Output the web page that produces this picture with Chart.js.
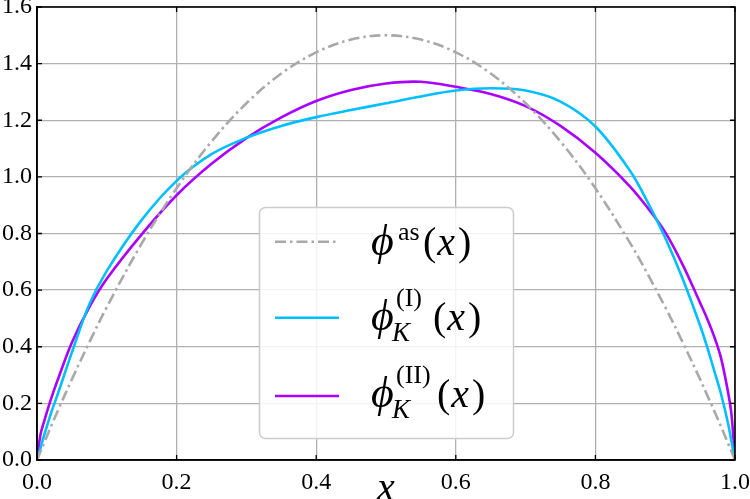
<!DOCTYPE html>
<html>
<head>
<meta charset="utf-8">
<script src="https://cdn.jsdelivr.net/npm/chart.js@4.4.1/dist/chart.umd.min.js"></script>
<style>
  html, body { margin: 0; padding: 0; background: #fff; }
  #wrap { width: 750px; height: 499px; }
</style>
</head>
<body>
<div id="wrap"><canvas id="chart" width="750" height="499"></canvas></div>
<script>
const xs = [0, 0.005, 0.01, 0.02, 0.03, 0.05, 0.075, 0.1, 0.15, 0.2, 0.25, 0.3, 0.35, 0.4, 0.45, 0.5,
  0.55, 0.6, 0.65, 0.7, 0.75, 0.8, 0.85, 0.875, 0.9, 0.925, 0.95, 0.96, 0.97, 0.98, 0.99, 0.995, 1];

// phi^as(x)
const phiAs = [0, 0.030, 0.059, 0.118, 0.175, 0.285, 0.416, 0.54, 0.765, 0.96, 1.125, 1.26, 1.365, 1.44, 1.485, 1.5,
  1.485, 1.44, 1.365, 1.26, 1.125, 0.96, 0.765, 0.656, 0.54, 0.416, 0.285, 0.230, 0.175, 0.118, 0.059, 0.030, 0];

// phi_K^(I)(x)
const phiK1 = [0, 0.042, 0.085, 0.165, 0.235, 0.38, 0.55, 0.668, 0.848, 0.986, 1.08, 1.138, 1.18, 1.211, 1.236, 1.26,
  1.284, 1.305, 1.313, 1.305, 1.266, 1.178, 1.02, 0.91, 0.785, 0.64, 0.475, 0.4, 0.317, 0.233, 0.13, 0.065, 0];

// phi_K^(II)(x)
const phiK2 = [0, 0.09, 0.135, 0.215, 0.285, 0.415, 0.54, 0.64, 0.797, 0.935, 1.046, 1.137, 1.21, 1.268, 1.307, 1.33,
  1.336, 1.318, 1.293, 1.25, 1.18, 1.085, 0.965, 0.89, 0.805, 0.69, 0.555, 0.5, 0.437, 0.36, 0.24, 0.16, 0];

const xTicks = [0, 0.2, 0.4, 0.6, 0.8, 1.0];
const yTicks = [0, 0.2, 0.4, 0.6, 0.8, 1.0, 1.2, 1.4, 1.6];

const serif = '"Liberation Serif", "Times New Roman", serif';
const grayCol = '#a9a9a9';
const cyanCol = '#00bfff';
const purpleCol = '#aa00ff';
const asDash = [11, 4, 2.5, 4];

function pts(ys) {
  return xs.map((x, i) => ({ x: x, y: ys[i] }));
}

// legend entries (math labels drawn by hand)
const legendRows = [
  { color: grayCol, dash: asDash, sup: 'as', sub: '' },
  { color: cyanCol, dash: [], sup: '(I)', sub: 'K' },
  { color: purpleCol, dash: [], sup: '(II)', sub: 'K' }
];

const frameAndLegend = {
  id: 'frameAndLegend',
  afterDraw(chart) {
    const ctx = chart.ctx;
    const a = chart.chartArea;
    const sx = chart.scales.x, sy = chart.scales.y;

    ctx.save();
    // inward ticks on all four sides
    ctx.strokeStyle = '#000';
    ctx.lineWidth = 1.3;
    ctx.beginPath();
    xTicks.forEach(v => {
      const p = sx.getPixelForValue(v);
      ctx.moveTo(p, a.bottom); ctx.lineTo(p, a.bottom - 5);
      ctx.moveTo(p, a.top); ctx.lineTo(p, a.top + 5);
    });
    yTicks.forEach(v => {
      const p = sy.getPixelForValue(v);
      ctx.moveTo(a.left, p); ctx.lineTo(a.left + 5, p);
      ctx.moveTo(a.right, p); ctx.lineTo(a.right - 5, p);
    });
    ctx.stroke();

    // frame
    ctx.lineWidth = 1.6;
    ctx.strokeRect(a.left, a.top, a.right - a.left, a.bottom - a.top);

    // legend box
    ctx.beginPath();
    ctx.roundRect(259.5, 207.5, 254, 231, 6);
    ctx.fillStyle = 'rgba(255,255,255,0.85)';
    ctx.fill();
    ctx.strokeStyle = '#cccccc';
    ctx.lineWidth = 1.5;
    ctx.stroke();

    const handleY = [241.7, 317.7, 396];
    const baseY = [255, 330, 407];
    const supX = [398, 396, 396];
    const parenX = [423, 433, 437];
    legendRows.forEach((r, i) => {
      ctx.beginPath();
      ctx.setLineDash(r.dash);
      ctx.strokeStyle = r.color;
      ctx.lineWidth = 2.6;
      ctx.moveTo(275, handleY[i]);
      ctx.lineTo(339, handleY[i]);
      ctx.stroke();
      ctx.setLineDash([]);

      const b = baseY[i];
      ctx.fillStyle = '#000';
      ctx.textBaseline = 'alphabetic';
      ctx.textAlign = 'left';
      ctx.font = 'italic 44px ' + serif;
      ctx.fillText('\u03D5', 371, b);
      ctx.font = '26px ' + serif;
      ctx.fillText(r.sup, supX[i], b - (r.sub ? 24 : 15));
      if (r.sub) {
        ctx.font = 'italic 27px ' + serif;
        ctx.fillText(r.sub, 392, b + 11);
      }
      let px = parenX[i];
      ctx.font = '40px ' + serif;
      ctx.fillText('(', px, b);
      px += ctx.measureText('(').width + 1;
      ctx.font = 'italic 40px ' + serif;
      ctx.fillText('x', px, b);
      px += ctx.measureText('x').width + 3;
      ctx.font = '40px ' + serif;
      ctx.fillText(')', px, b);
    });
    ctx.restore();
  }
};

new Chart(document.getElementById('chart'), {
  type: 'line',
  data: {
    datasets: [
      {
        label: 'phi as',
        data: pts(phiAs),
        borderColor: grayCol,
        borderWidth: 2.6,
        borderDash: asDash,
        tension: 0.35,
        pointRadius: 0,
        fill: false
      },
      {
        label: 'phi K I',
        data: pts(phiK1),
        borderColor: cyanCol,
        borderWidth: 2.6,
        tension: 0.35,
        pointRadius: 0,
        fill: false
      },
      {
        label: 'phi K II',
        data: pts(phiK2),
        borderColor: purpleCol,
        borderWidth: 2.6,
        tension: 0.35,
        pointRadius: 0,
        fill: false
      }
    ]
  },
  options: {
    responsive: false,
    animation: false,
    devicePixelRatio: 1,
    layout: { padding: { top: 7, right: 15, left: 0, bottom: 0 } },
    plugins: { legend: { display: false }, tooltip: { enabled: false } },
    scales: {
      x: {
        type: 'linear',
        min: 0,
        max: 1,
        afterFit(s) { s.height = 39; s.paddingLeft = 0; s.paddingRight = 0; },
        afterBuildTicks(s) { s.ticks = xTicks.map(v => ({ value: v })); },
        ticks: {
          callback: v => v.toFixed(1),
          color: '#000',
          font: { family: serif, size: 24 },
          padding: 8,
          maxRotation: 0
        },
        grid: { color: '#b0b0b0', lineWidth: 1.3, drawTicks: false },
        border: { color: '#000', width: 1.6 },
        title: {
          display: true,
          text: 'x',
          color: '#000',
          font: { family: serif, size: 40, style: 'italic', lineHeight: 0.5 },
          padding: 0
        }
      },
      y: {
        min: 0,
        max: 1.6,
        afterFit(s) { s.width = 37; s.paddingTop = 0; s.paddingBottom = 0; },
        afterBuildTicks(s) { s.ticks = yTicks.map(v => ({ value: v })); },
        ticks: {
          callback: v => v.toFixed(1),
          color: '#000',
          font: { family: serif, size: 24 },
          padding: 5
        },
        grid: { color: '#b0b0b0', lineWidth: 1.3, drawTicks: false },
        border: { color: '#000', width: 1.6 }
      }
    }
  },
  plugins: [frameAndLegend]
});
</script>
</body>
</html>
